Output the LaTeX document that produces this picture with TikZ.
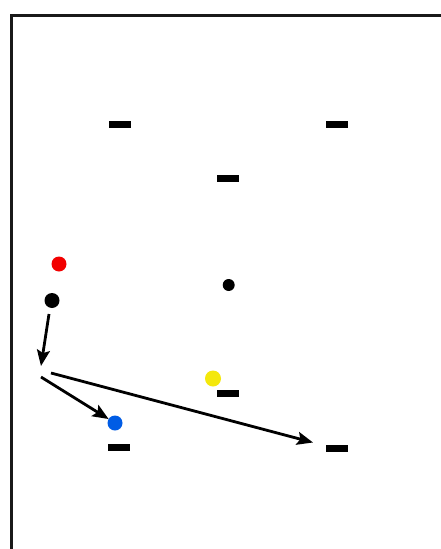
\documentclass[tikz,border=0pt]{standalone}
\usetikzlibrary{arrows.meta}
\begin{document}
\begin{tikzpicture}[x=1pt,y=-1pt,
  barmark/.style={fill=black,minimum width=22pt,minimum height=7pt,inner sep=0pt,outer sep=0pt,draw=none},
  dotmark/.style={circle,minimum size=15pt,inner sep=0pt,outer sep=0pt,draw=none},
  arr/.style={line width=2.8pt,-{Stealth[length=16pt,width=13pt,inset=3pt]}}]
\useasboundingbox (0,0) rectangle (441,549);
\fill[white] (0,0) rectangle (441,549);
\draw[line width=3pt,black!90] (441,15) -- (11,15) -- (11,549);
% bars
\node[barmark] (d1) at (120,124) {};
\node[barmark] (d2) at (337,124.5) {};
\node[barmark] (d3) at (228,178) {};
\node[barmark] (d4) at (228,393.5) {};
\node[barmark] (d5) at (119,447.5) {};
\node[barmark] (d6) at (337,448) {};
% dots
\node[dotmark,fill=red!95!black] (red) at (59,264) {};
\node[dotmark,fill=black] (blk) at (52,300.5) {};
\node[dotmark,fill=black,minimum size=12pt] (blk2) at (228.7,285) {};
\node[dotmark,fill=yellow!95!black,minimum size=16pt] (yel) at (213,378.5) {};
\node[dotmark,fill=blue!60!cyan!90!black,minimum size=15pt] (blu) at (115,423) {};
% arrows
\coordinate (a1s) at (49,314);
\coordinate (a1e) at (41,366);
\coordinate (a2s) at (41,377);
\coordinate (a3s) at (51,373);
\coordinate (a3e) at (313,442.5);
\draw[arr] (a1s) -- (a1e);
\draw[arr] (a2s) -- (blu);
\draw[arr] (a3s) -- (a3e);
\end{tikzpicture}
\end{document}
